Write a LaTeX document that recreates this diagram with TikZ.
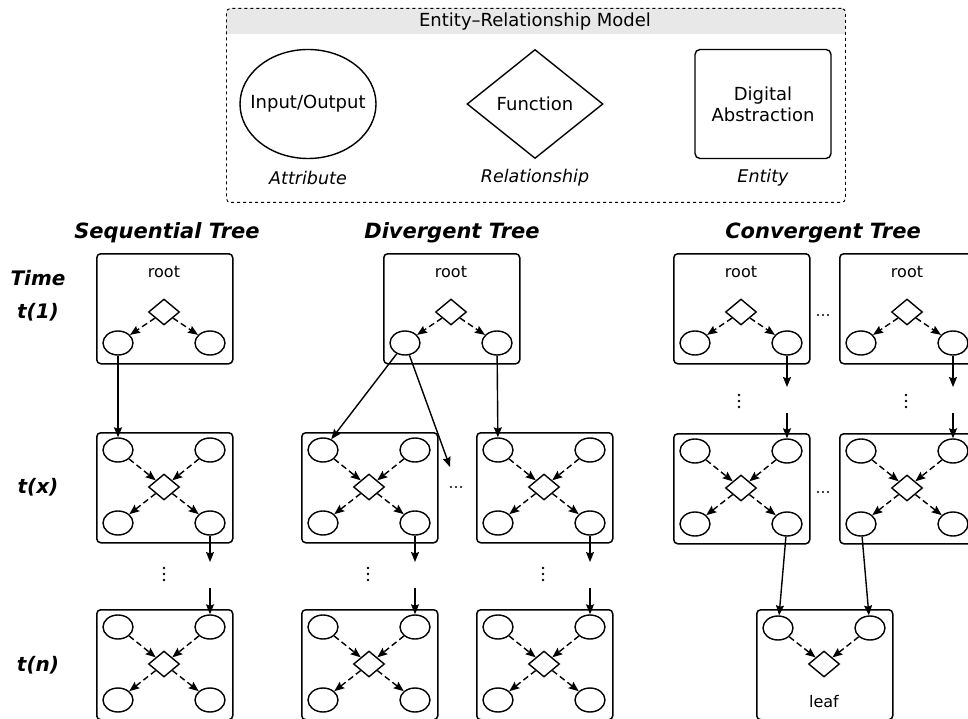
\documentclass[tikz,border=0pt]{standalone}
\usepackage{fontspec}
\setmainfont{DejaVu Sans}[BoldFont={DejaVu Sans Bold},ItalicFont={DejaVu Sans Oblique},BoldItalicFont={DejaVu Sans Bold Oblique}]
\usetikzlibrary{shapes.geometric,arrows.meta}
\definecolor{headgray}{gray}{0.91}
\tikzset{
 ell/.style={ellipse, draw, line width=1.4pt, minimum width=30pt, minimum height=24pt, inner sep=0pt},
 dia/.style={diamond, draw, line width=1.4pt, minimum width=31pt, minimum height=26pt, inner sep=0pt},
 ebox/.style={draw, line width=1.5pt, rounded corners=4pt, minimum width=136pt, minimum height=110pt, anchor=north west, inner sep=0pt},
 tip/.style={-{Stealth[length=10pt,width=8pt,inset=1.5pt]}},
 darr/.style={tip, line width=1.4pt, dash pattern=on 6pt off 3.5pt},
 sarr/.style={tip, line width=1.4pt},
 ttl/.style={font=\fontsize{21}{24}\selectfont\bfseries\itshape},
 rowlab/.style={font=\fontsize{20}{24}\selectfont\bfseries\itshape},
 lbl/.style={font=\fontsize{16}{19}\selectfont},
 erlbl/.style={font=\fontsize{18}{21}\selectfont, align=center},
 eritl/.style={font=\fontsize{17.5}{21}\selectfont\itshape},
 bigshape/.style={draw, line width=1.4pt, inner sep=0pt, minimum width=136pt, minimum height=109pt}
}
\newcommand{\vdotsAt}[2]{%
 \fill (#1,#2-6) circle (1.3pt) (#1,#2) circle (1.3pt) (#1,#2+6) circle (1.3pt);
}
\newcommand{\hdotsAt}[2]{%
 \fill (#1-5,#2) circle (1.1pt) (#1,#2) circle (1.1pt) (#1+5,#2) circle (1.1pt);
}
\newcommand{\erQuadBox}[3]{%
 \node[ebox] (#1) at (#2,#3) {};
 \node[ell] (#1-ul) at (#2+22,#3+18) {};
 \node[ell] (#1-ur) at (#2+114,#3+18) {};
 \node[ell] (#1-ll) at (#2+22,#3+91) {};
 \node[ell] (#1-lr) at (#2+114,#3+91) {};
 \node[dia] (#1-d) at (#2+68,#3+55) {};
 \draw[darr] (#1-ul) -- (#1-d);
 \draw[darr] (#1-ur) -- (#1-d);
 \draw[darr] (#1-d) -- (#1-ll);
 \draw[darr] (#1-d) -- (#1-lr);
}
\newcommand{\erRootBox}[3]{%
 \node[ebox] (#1) at (#2,#3) {};
 \node[lbl] (#1-t) at (#2+68,#3+19) {root};
 \node[dia] (#1-d) at (#2+68,#3+59) {};
 \node[ell] (#1-ll) at (#2+22,#3+90) {};
 \node[ell] (#1-lr) at (#2+114,#3+90) {};
 \draw[darr] (#1-d) -- (#1-ll);
 \draw[darr] (#1-d) -- (#1-lr);
}
\newcommand{\erLeafBox}[3]{%
 \node[ebox] (#1) at (#2,#3) {};
 \node[ell] (#1-ul) at (#2+22,#3+19) {};
 \node[ell] (#1-ur) at (#2+114,#3+19) {};
 \node[dia] (#1-d) at (#2+68,#3+55) {};
 \node[lbl] (#1-t) at (#2+68,#3+93) {leaf};
 \draw[darr] (#1-ul) -- (#1-d);
 \draw[darr] (#1-ur) -- (#1-d);
}
\begin{document}
\begin{tikzpicture}[x=1pt,y=-1pt]
\useasboundingbox (0,0) rectangle (968,719);
% ER legend
\fill[headgray] (226,34) {[rounded corners=4pt] -- (226,8) -- (845,8)} -- (845,34) -- cycle;
\node[draw, dashed, line width=0.9pt, rounded corners=4pt, minimum width=619pt, minimum height=194pt, anchor=north west, inner sep=0pt] (er) at (226,8) {};
\node[erlbl] (ertitle) at (535,22) {Entity–Relationship Model};
\node[bigshape, ellipse] (attr) at (308,104) {};
\node[erlbl] (attrt) at (attr) {Input/Output};
\node[bigshape, diamond] (rel) at (535,104) {};
\node[erlbl] (relt) at (rel) {Function};
\node[bigshape, rounded corners=5pt] (ent) at (763,104) {};
\node[erlbl] (entt) at (ent) {Digital\\Abstraction};
\node[eritl] (attrl) at (308,178) {Attribute};
\node[eritl] (rell) at (535,178) {Relationship};
\node[eritl] (entl) at (763,178) {Entity};
% titles
\node[ttl] (tseq) at (167,233) {Sequential Tree};
\node[ttl] (tdiv) at (452,233) {Divergent Tree};
\node[ttl] (tcon) at (823,233) {Convergent Tree};
\node[rowlab] (rtime) at (38,278) {Time};
\node[rowlab] (rt1) at (38,312) {t(1)};
\node[rowlab] (rtx) at (38,487) {t(x)};
\node[rowlab] (rtn) at (38,665) {t(n)};
% sequential
\erRootBox{sr}{96}{253}
\erQuadBox{sx}{96}{432}
\erQuadBox{sn}{96}{609}
\draw[sarr] (sr-ll) -- (sx-ul);
\coordinate (sa1) at (210,562);
\coordinate (sa2) at (210,588);
\draw[sarr] (sx-lr) -- (sa1);
\vdotsAt{164}{574}
\draw[sarr] (sa2) -- (sn-ur);
% divergent
\erRootBox{dr}{383}{253}
\erQuadBox{dx1}{301}{432}
\erQuadBox{dx2}{476}{432}
\erQuadBox{dn1}{301}{609}
\erQuadBox{dn2}{476}{609}
\coordinate (dmid) at (450,467);
\hdotsAt{456}{487}
\draw[sarr] (dr-ll) -- (dx1-ul);
\draw[sarr] (dr-ll) -- (dmid);
\draw[sarr] (dr-lr) -- (dx2-ul);
\coordinate (da1) at (415,562);
\coordinate (da2) at (415,588);
\draw[sarr] (dx1-lr) -- (da1);
\vdotsAt{368}{574}
\draw[sarr] (da2) -- (dn1-ur);
\coordinate (db1) at (590,562);
\coordinate (db2) at (590,588);
\draw[sarr] (dx2-lr) -- (db1);
\vdotsAt{543}{574}
\draw[sarr] (db2) -- (dn2-ur);
% convergent
\erRootBox{cr1}{673}{253}
\erRootBox{cr2}{839}{253}
\hdotsAt{823}{315}
\erQuadBox{cx1}{673}{433}
\erQuadBox{cx2}{839}{433}
\hdotsAt{823}{492}
\coordinate (ca1) at (787,387);
\coordinate (ca2) at (787,413);
\draw[sarr] (cr1-lr) -- (ca1);
\vdotsAt{739}{401}
\draw[sarr] (ca2) -- (cx1-ur);
\coordinate (cb1) at (953,387);
\coordinate (cb2) at (953,413);
\draw[sarr] (cr2-lr) -- (cb1);
\vdotsAt{906}{401}
\draw[sarr] (cb2) -- (cx2-ur);
\erLeafBox{lf}{756}{609}
\draw[sarr] (cx1-lr) -- (lf-ul);
\draw[sarr] (cx2-ll) -- (lf-ur);
\end{tikzpicture}
\end{document}
